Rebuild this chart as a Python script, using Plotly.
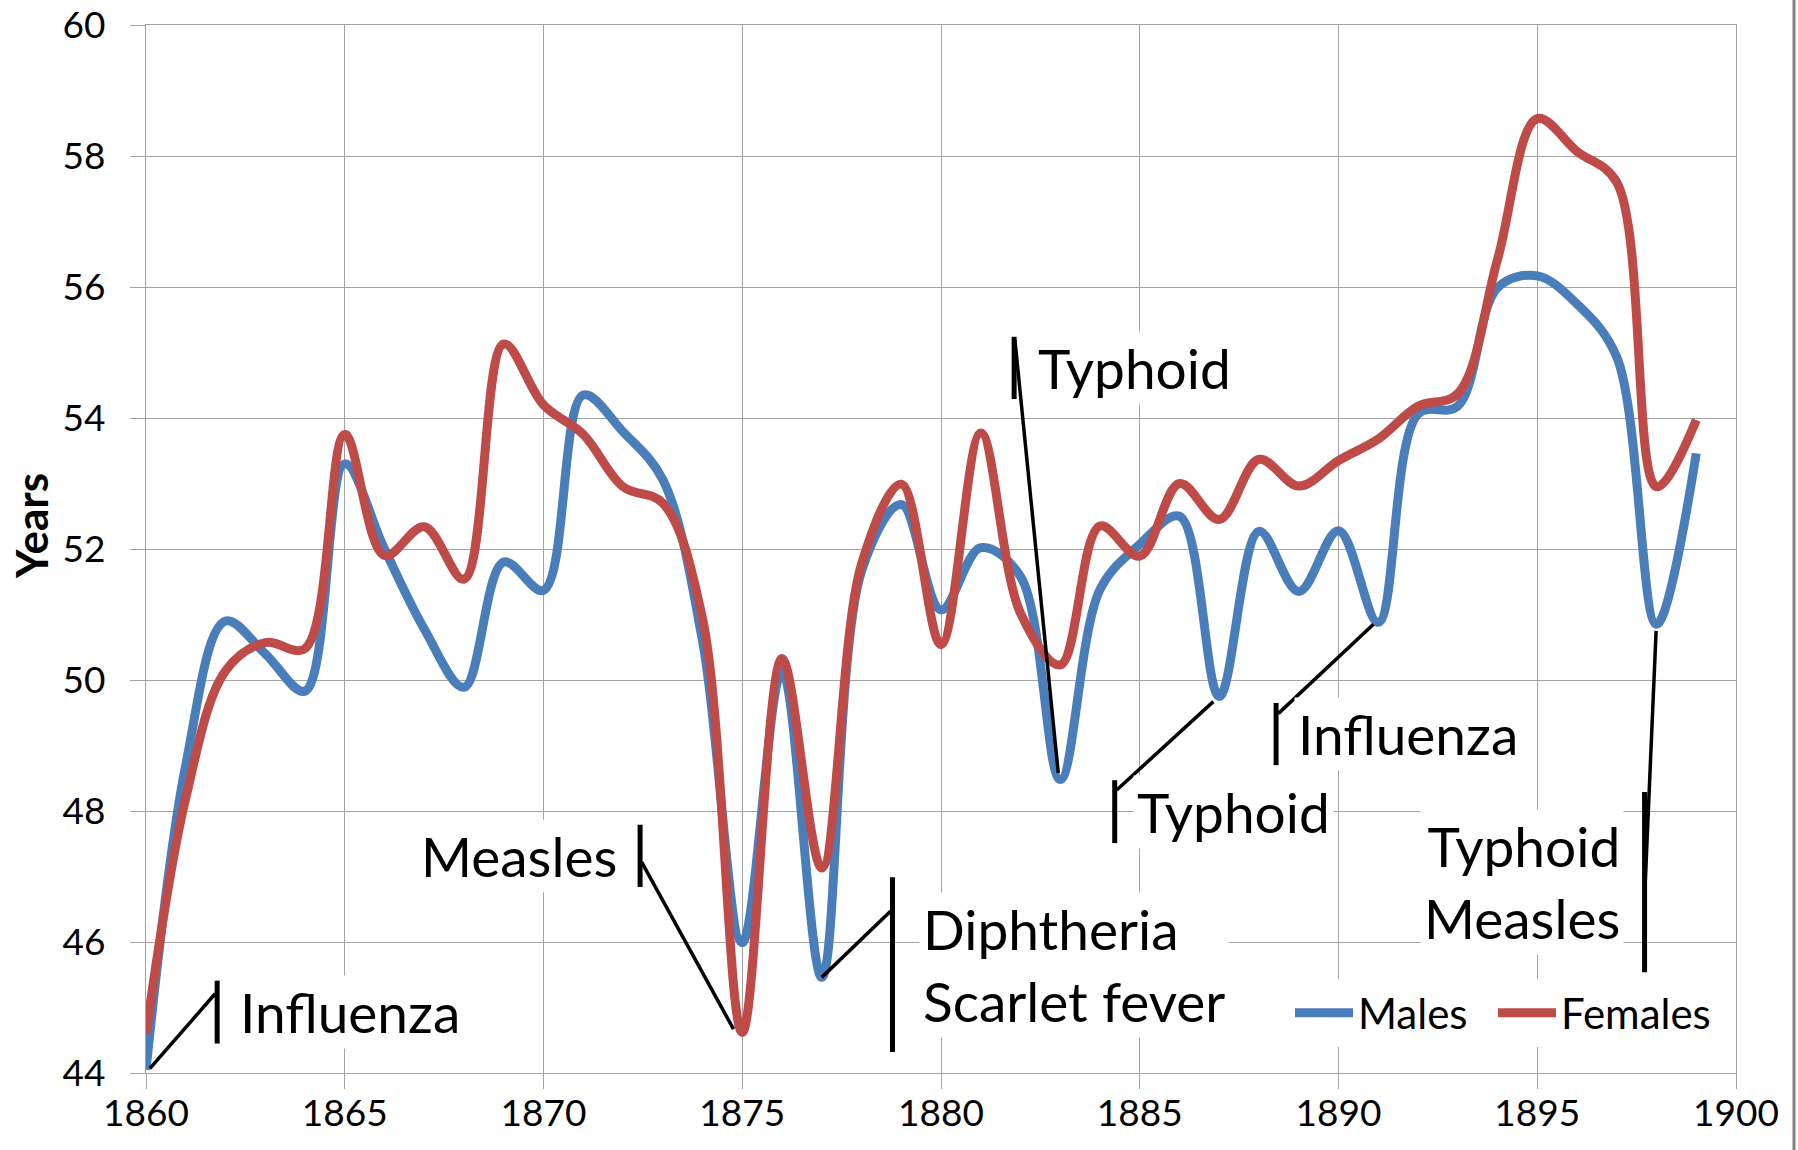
import plotly.graph_objects as go

# ---- data ----
years = list(range(1860, 1900))
males = [44.05, 48.70, 50.90, 50.40, 49.83, 53.30, 52.00, 50.78, 49.89, 51.80,
         51.37, 54.35, 53.79, 53.06, 50.60, 45.99, 50.14, 45.46, 51.66, 52.68,
         51.07, 52.02, 51.58, 48.48, 51.38, 52.07, 52.50, 49.75, 52.27, 51.35,
         52.28, 50.88, 54.06, 54.18, 55.99, 56.17, 55.74, 54.93, 50.85, 53.46]
females = [44.60, 48.20, 50.14, 50.57, 50.48, 53.75, 51.90, 52.34, 51.54, 55.13,
           54.20, 53.75, 52.95, 52.70, 50.94, 44.62, 50.33, 47.13, 51.77, 52.99,
           50.54, 53.77, 51.02, 50.23, 52.35, 51.89, 53.00, 52.45, 53.37, 52.96,
           53.35, 53.68, 54.18, 54.37, 56.42, 58.57, 58.07, 57.60, 52.95, 53.97]

y_ticks = [44, 46, 48, 50, 52, 54, 56, 58, 60]
x_ticks = [1860, 1865, 1870, 1875, 1880, 1885, 1890, 1895, 1900]

# callouts: text, side of text, text x, leader (x0, y0, x1, y1), accent bar (x, y0, y1)
callout_texts = ["Influenza", "Measles", "Diphtheria<br>Scarlet fever", "Typhoid",
                 "Typhoid", "Influenza", "Typhoid<br>Measles"]
callout_sides = ["left", "right", "left", "left", "left", "left", "right"]
callout_text_x = [1862.27, 1871.95, 1879.45, 1882.33, 1884.84, 1888.89, 1897.17]
callout_leaders = [(1860.10, 44.07, 1861.74, 45.21),
                   (1874.78, 44.67, 1872.47, 47.22),
                   (1877.00, 45.46, 1878.73, 46.47),
                   (1882.95, 48.58, 1881.86, 55.19),
                   (1886.85, 49.67, 1884.42, 48.32),
                   (1890.88, 50.85, 1888.49, 49.49),
                   (1897.99, 50.75, 1897.72, 46.95)]
callout_bars = [(1861.79, 44.45, 45.41),
                (1872.43, 46.84, 47.79),
                (1878.78, 44.32, 46.99),
                (1881.84, 54.29, 55.24),
                (1884.37, 47.51, 48.47),
                (1888.43, 48.70, 49.65),
                (1897.70, 45.54, 48.29)]

BLUE = "#4A7EBB"
RED = "#BE4B48"
GRID = "#A3A3A3"
FONT = "Lato"

# plot area on screen: x 146..1736, y 25..1073
W, H = 1798, 1150
L, R, T, B = 146, 62, 25, 77
PW, PH = W - L - R, H - T - B


def px_to_paper(xs, ys):
    """pixel position -> paper coordinates"""
    return (xs - L) / PW, (H - B - ys) / PH


fig = go.Figure()
fig.add_trace(go.Scatter(x=years, y=males, name="Males", mode="lines", legend="legend",
                         line=dict(color=BLUE, width=9, shape="spline", smoothing=1.0)))
fig.add_trace(go.Scatter(x=years, y=females, name="Females", mode="lines", legend="legend2",
                         line=dict(color=RED, width=9, shape="spline", smoothing=1.0)))

shapes = []
annotations = []
for txt, side, tx, lead, bar in zip(callout_texts, callout_sides, callout_text_x,
                                    callout_leaders, callout_bars):
    x0, y0, x1, y1 = lead
    shapes.append(dict(type="line", xref="x", yref="y", x0=x0, y0=y0, x1=x1, y1=y1,
                       line=dict(color="black", width=3.5), layer="above"))
    bx, by0, by1 = bar
    shapes.append(dict(type="line", xref="x", yref="y", x0=bx, y0=by0, x1=bx, y1=by1,
                       line=dict(color="black", width=5), layer="above"))
    annotations.append(dict(x=tx, y=(by0 + by1) / 2, xref="x", yref="y",
                            text=txt, showarrow=False, xanchor=side, yanchor="middle",
                            align=side, bgcolor="white", borderpad=3,
                            font=dict(family=FONT, size=55, color="black")))

# y-axis title
tx, ty = px_to_paper(31, 526)
annotations.append(dict(x=tx, y=ty, xref="paper", yref="paper", text="<b>Years</b>",
                        showarrow=False, textangle=-90, xanchor="center", yanchor="middle",
                        font=dict(family=FONT, size=44, color="black")))

# chart frame edge on the right
fx0, fy0 = px_to_paper(1794, 1150)
fx1, fy1 = px_to_paper(1794, 0)
shapes.append(dict(type="line", xref="paper", yref="paper",
                   x0=fx0, x1=fx0, y0=fy0, y1=fy1,
                   line=dict(color="#808080", width=3)))

l1x, l1y = px_to_paper(1290, 1013)
l2x, l2y = px_to_paper(1493, 1013)
legend_style = dict(orientation="h", xanchor="left", yanchor="middle", bgcolor="white",
                    font=dict(family=FONT, size=42, color="black"), itemwidth=58)

fig.update_layout(
    width=W, height=H,
    margin=dict(l=L, r=R, t=T, b=B, autoexpand=False),
    paper_bgcolor="white", plot_bgcolor="white",
    font=dict(family=FONT, color="black"),
    showlegend=True,
    legend=dict(x=l1x, y=l1y, **legend_style),
    legend2=dict(x=l2x, y=l2y, **legend_style),
    shapes=shapes,
    annotations=annotations,
)
fig.update_xaxes(range=[1860, 1900], tickvals=x_ticks, ticktext=[str(v) for v in x_ticks],
                 showgrid=True, gridcolor=GRID, gridwidth=1.3,
                 showline=True, linecolor=GRID, linewidth=1.3, mirror=True,
                 ticks="outside", ticklen=15, tickcolor=GRID, tickwidth=1.3,
                 tickfont=dict(family=FONT, size=37, color="black"),
                 ticklabelstandoff=-8, ticklabeloverflow="allow",
                 zeroline=False, automargin=False)
fig.update_yaxes(range=[44, 60], tickvals=y_ticks, ticktext=[str(v) for v in y_ticks],
                 showgrid=True, gridcolor=GRID, gridwidth=1.3,
                 showline=True, linecolor=GRID, linewidth=1.3, mirror=True,
                 ticks="outside", ticklen=15, tickcolor=GRID, tickwidth=1.3,
                 tickfont=dict(family=FONT, size=37, color="black"),
                 ticklabelstandoff=17, ticklabeloverflow="allow",
                 zeroline=False, automargin=False)

fig.write_html("out.html",
               config={"displayModeBar": False},
               post_script="document.body.style.margin='0px';"
                           "document.body.style.overflow='hidden';")
